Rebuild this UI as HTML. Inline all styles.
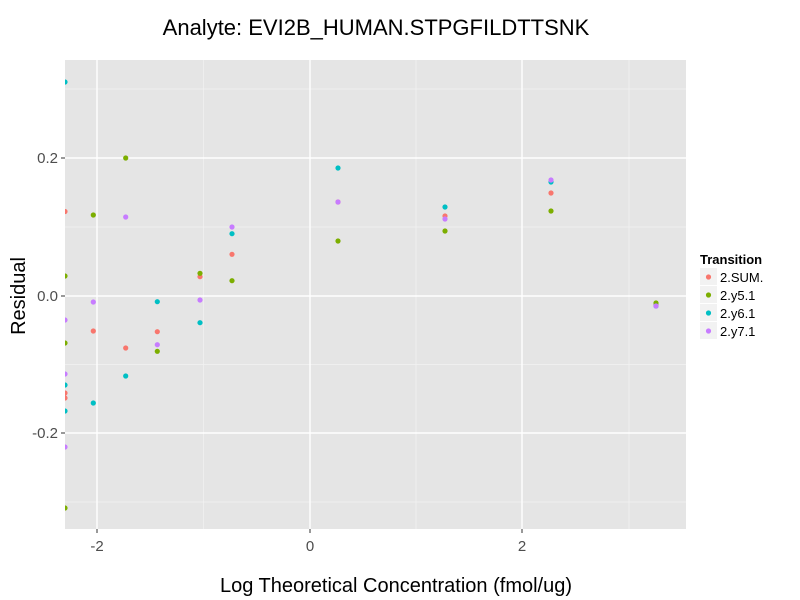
<!DOCTYPE html>
<html><head><style>body{margin:0;background:#fff}svg{display:block}</style></head><body>
<svg width="800" height="600" xmlns="http://www.w3.org/2000/svg" font-family="Liberation Sans, sans-serif">
<rect x="65" y="60" width="621" height="469" fill="#e5e5e5"/>
<g stroke="#f2f2f2" stroke-width="0.7">
<line x1="65" x2="686" y1="89" y2="89"/><line x1="65" x2="686" y1="227" y2="227"/><line x1="65" x2="686" y1="364.5" y2="364.5"/><line x1="65" x2="686" y1="502" y2="502"/>
<line y1="60" y2="529" x1="203.5" x2="203.5"/><line y1="60" y2="529" x1="416" x2="416"/><line y1="60" y2="529" x1="629" x2="629"/>
</g>
<g stroke="#fff" stroke-width="1.4">
<line x1="65" x2="686" y1="158" y2="158"/><line x1="65" x2="686" y1="296" y2="296"/><line x1="65" x2="686" y1="433" y2="433"/>
<line y1="60" y2="529" x1="97" x2="97"/><line y1="60" y2="529" x1="310" x2="310"/><line y1="60" y2="529" x1="522" x2="522"/>
</g>
<svg x="65" y="60" width="621" height="469" overflow="hidden"><g transform="translate(-65,-60)">
<g fill="#F8766D"><circle cx="65" cy="211.5" r="2.6"/><circle cx="65" cy="393" r="2.6"/><circle cx="65" cy="398" r="2.6"/><circle cx="93.3" cy="331" r="2.6"/><circle cx="125.7" cy="348" r="2.6"/><circle cx="157.3" cy="331.7" r="2.6"/><circle cx="200" cy="276.7" r="2.6"/><circle cx="232" cy="254.3" r="2.6"/><circle cx="338" cy="202" r="2.6"/><circle cx="445" cy="216" r="2.6"/><circle cx="551" cy="193" r="2.6"/><circle cx="656" cy="305" r="2.6"/></g>
<g fill="#7CAE00"><circle cx="65" cy="276" r="2.6"/><circle cx="65" cy="343" r="2.6"/><circle cx="65" cy="508" r="2.6"/><circle cx="93.3" cy="215" r="2.6"/><circle cx="125.7" cy="158" r="2.6"/><circle cx="157.3" cy="351.3" r="2.6"/><circle cx="200" cy="273.3" r="2.6"/><circle cx="232" cy="280.7" r="2.6"/><circle cx="338" cy="241" r="2.6"/><circle cx="445" cy="231" r="2.6"/><circle cx="551" cy="211" r="2.6"/><circle cx="656" cy="303" r="2.6"/></g>
<g fill="#00BFC4"><circle cx="65" cy="82" r="2.6"/><circle cx="65" cy="385" r="2.6"/><circle cx="65" cy="411" r="2.6"/><circle cx="93.3" cy="403" r="2.6"/><circle cx="125.7" cy="376" r="2.6"/><circle cx="157.3" cy="301.7" r="2.6"/><circle cx="200" cy="322.7" r="2.6"/><circle cx="232" cy="233.7" r="2.6"/><circle cx="338" cy="168" r="2.6"/><circle cx="445" cy="207" r="2.6"/><circle cx="551" cy="182" r="2.6"/><circle cx="656" cy="306" r="2.6"/></g>
<g fill="#C77CFF"><circle cx="65" cy="320" r="2.6"/><circle cx="65" cy="374" r="2.6"/><circle cx="65" cy="447" r="2.6"/><circle cx="93.3" cy="302" r="2.6"/><circle cx="125.7" cy="217" r="2.6"/><circle cx="157.3" cy="344.7" r="2.6"/><circle cx="200" cy="300" r="2.6"/><circle cx="232" cy="227" r="2.6"/><circle cx="338" cy="202" r="2.6"/><circle cx="445" cy="219" r="2.6"/><circle cx="551" cy="180" r="2.6"/><circle cx="656" cy="306" r="2.6"/></g>
</g></svg>
<g stroke="#333" stroke-width="1"><line x1="61" x2="65" y1="158" y2="158"/><line x1="61" x2="65" y1="296" y2="296"/><line x1="61" x2="65" y1="433" y2="433"/>
<line x1="97" x2="97" y1="529" y2="533"/><line x1="310" x2="310" y1="529" y2="533"/><line x1="522" x2="522" y1="529" y2="533"/></g>
<g fill="#4d4d4d" font-size="15" text-anchor="end"><text x="58" y="163">0.2</text><text x="58" y="301">0.0</text><text x="58" y="438">-0.2</text></g>
<g fill="#4d4d4d" font-size="15" text-anchor="middle"><text x="97" y="551">-2</text><text x="310" y="551">0</text><text x="522" y="551">2</text></g>
<text x="376" y="35" font-size="22" text-anchor="middle">Analyte: EVI2B_HUMAN.STPGFILDTTSNK</text>
<text x="396" y="592" font-size="20" text-anchor="middle">Log Theoretical Concentration (fmol/ug)</text>
<text transform="translate(25,296) rotate(-90)" font-size="20" text-anchor="middle">Residual</text>
<text x="700" y="264" font-size="13" font-weight="bold">Transition</text>
<g fill="#f2f2f2"><rect x="700" y="268" width="17" height="17"/><rect x="700" y="286" width="17" height="17"/><rect x="700" y="304" width="17" height="17"/><rect x="700" y="322" width="17" height="17"/></g>
<circle cx="708.5" cy="277" r="2.6" fill="#F8766D"/><circle cx="708.5" cy="295" r="2.6" fill="#7CAE00"/><circle cx="708.5" cy="313" r="2.6" fill="#00BFC4"/><circle cx="708.5" cy="331" r="2.6" fill="#C77CFF"/>
<g font-size="13"><text x="720" y="282">2.SUM.</text><text x="720" y="300">2.y5.1</text><text x="720" y="318">2.y6.1</text><text x="720" y="336">2.y7.1</text></g>
</svg>
</body></html>
